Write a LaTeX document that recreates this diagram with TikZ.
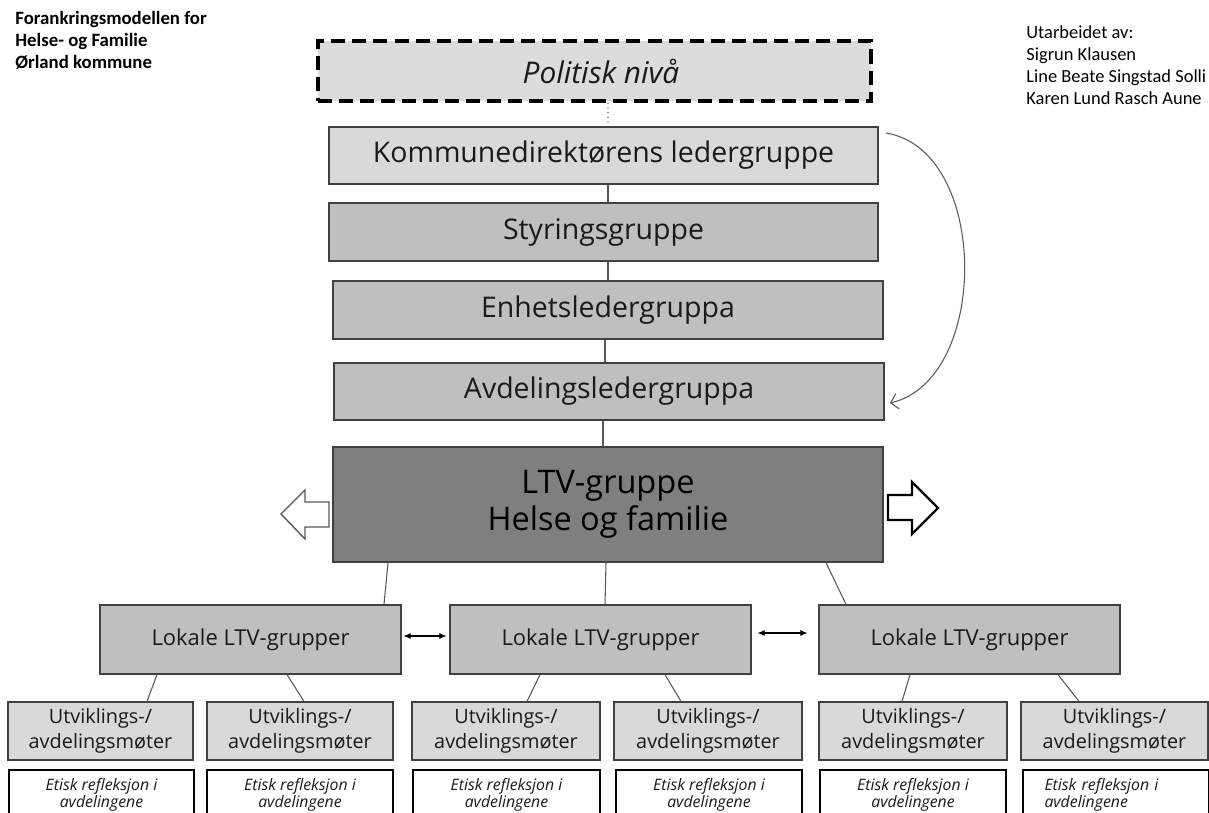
\documentclass[tikz,border=0pt]{standalone}
\usepackage{fontspec}
\setmainfont{Open Sans}
\newfontfamily\calfont{Carlito}
\usetikzlibrary{arrows.meta}

\definecolor{boxline}{HTML}{404040}
\definecolor{linkgray}{HTML}{595959}
\definecolor{textgray}{HTML}{1A1A1A}
\definecolor{polfill}{HTML}{DCDCDC}
\definecolor{lightfill}{HTML}{D9D9D9}
\definecolor{midfill}{HTML}{BFBFBF}
\definecolor{darkfill}{HTML}{7F7F7F}

\begin{document}
\begin{tikzpicture}[x=0.02cm,y=-0.02cm]
\tikzstyle{every node}+=[inner sep=0pt, text=textgray]
\tikzstyle{level}=[draw=boxline, line width=0.7pt, fill=midfill, align=center]
\tikzstyle{link}=[draw=linkgray, line width=0.6pt]
\tikzstyle{both}=[{Latex[length=4pt,width=3.5pt]}-{Latex[length=4pt,width=3.5pt]}, line width=0.6pt, black]
\clip (0,0) rectangle (1209,813);
\fill[white] (0,0) rectangle (1209,813);

% corner texts
\node[anchor=north west, align=left, text=black, font=\calfont\bfseries\fontsize{10.7}{12.5}\selectfont] (title) at (15,11) {Forankringsmodellen for\\Helse- og Familie\\Ørland kommune};
\node[anchor=north west, align=left, text=black, font=\calfont\fontsize{10.5}{12.5}\selectfont] (authors) at (1026,25) {Utarbeidet av:\\Sigrun Klausen\\Line Beate Singstad Solli\\Karen Lund Rasch Aune};

% ledelseslinjen
\node[level, fill=polfill, draw=black, line width=2.3pt, dash pattern=on 8pt off 4pt, minimum width=11.06cm, minimum height=1.2cm, font=\itshape\fontsize{17}{20}\selectfont] (pol) at (594.5,71) {\hspace*{0.26cm}Politisk nivå};
\node[level, fill=lightfill, minimum width=10.98cm, minimum height=1.14cm, font=\fontsize{16.2}{19}\selectfont] (kdl) at (603.5,155.5) {Kommunedirektørens ledergruppe};
\node[level, minimum width=10.98cm, minimum height=1.16cm, font=\fontsize{16.2}{19}\selectfont] (styr) at (603.5,232) {Styringsgruppe};
\node[level, minimum width=11cm, minimum height=1.16cm, font=\fontsize{16.2}{19}\selectfont] (enh) at (608,310) {Enhetsledergruppa};
\node[level, minimum width=11cm, minimum height=1.14cm, font=\fontsize{16.2}{19}\selectfont] (avd) at (609,391.5) {Avdelingsledergruppa};
\node[level, fill=darkfill, minimum width=11cm, minimum height=2.3cm, text=black, font=\fontsize{18.5}{21}\selectfont] (ltv) at (608,504.5) {LTV-gruppe\\Helse og familie};

% lokale grupper
\node[level, minimum width=6.02cm, minimum height=1.38cm, font=\fontsize{12.5}{15}\selectfont] (lok1) at (250.5,639.5) {Lokale LTV-grupper};
\node[level, minimum width=6.02cm, minimum height=1.38cm, font=\fontsize{12.5}{15}\selectfont] (lok2) at (600.5,639.5) {Lokale LTV-grupper};
\node[level, minimum width=6.02cm, minimum height=1.38cm, font=\fontsize{12.5}{15}\selectfont] (lok3) at (969.5,639.5) {Lokale LTV-grupper};

% avdelingsmøter
\tikzstyle{meet}=[level, fill=lightfill, minimum height=1.16cm, font=\fontsize{11.3}{14.2}\selectfont]
\node[meet, minimum width=3.7cm] (utv1) at (100.5,731) {Utviklings-/\\avdelingsmøter};
\node[meet, minimum width=3.72cm] (utv2) at (300,731) {Utviklings-/\\avdelingsmøter};
\node[meet, minimum width=3.76cm] (utv3) at (506,731) {Utviklings-/\\avdelingsmøter};
\node[meet, minimum width=3.76cm] (utv4) at (708,731) {Utviklings-/\\avdelingsmøter};
\node[meet, minimum width=3.76cm] (utv5) at (913,731) {Utviklings-/\\avdelingsmøter};
\node[meet, minimum width=3.74cm] (utv6) at (1114.5,731) {Utviklings-/\\avdelingsmøter};

% etisk refleksjon
\tikzstyle{ethics}=[draw=black, line width=0.7pt, fill=white, align=center, minimum height=1.0cm, font=\itshape\fontsize{9}{10}\selectfont]
\node[ethics, minimum width=3.7cm] (eti1) at (101.5,795) {Etisk refleksjon i\\avdelingene};
\node[ethics, minimum width=3.72cm] (eti2) at (300,795) {Etisk refleksjon i\\avdelingene};
\node[ethics, minimum width=3.74cm] (eti3) at (506.5,795) {Etisk refleksjon i\\avdelingene};
\node[ethics, minimum width=3.72cm] (eti4) at (709,795) {Etisk refleksjon i\\avdelingene};
\node[ethics, minimum width=3.72cm] (eti5) at (913,795) {Etisk refleksjon i\\avdelingene};
\node[ethics, minimum width=3.72cm, align=left, text width=2.86cm] (eti6) at (1116,795) {Etisk refleksjon i\\avdelingene};

% linjer
\draw[link, dotted] ([xshift=0.27cm]pol.south) -- ([xshift=0.09cm]kdl.north);
\draw[link] ([xshift=0.09cm]kdl.south) -- ([xshift=0.09cm]styr.north);
\draw[link] (enh.north |- styr.south) -- (enh.north);
\draw[link] ([xshift=-0.08cm]avd.north |- enh.south) -- ([xshift=-0.08cm]avd.north);
\draw[link] ([xshift=-0.1cm]ltv.north |- avd.south) -- ([xshift=-0.1cm]ltv.north);

\draw[link] ([xshift=-4.4cm]ltv.south) -- ([xshift=2.67cm]lok1.north);
\draw[link] ([xshift=-0.04cm]ltv.south) -- ([xshift=0.09cm]lok2.north);
\draw[link] ([xshift=4.36cm]ltv.south) -- ([xshift=-2.47cm]lok3.north);

\draw[link] ([xshift=-1.87cm]lok1.south) -- ([xshift=0.93cm]utv1.north);
\draw[link] ([xshift=0.73cm]lok1.south) -- ([xshift=0.08cm]utv2.north);
\draw[link] ([xshift=-1.21cm]lok2.south) -- ([xshift=0.42cm]utv3.north);
\draw[link] ([xshift=1.29cm]lok2.south) -- ([xshift=-0.54cm]utv4.north);
\draw[link] ([xshift=-1.19cm]lok3.south) -- ([xshift=-0.22cm]utv5.north);
\draw[link] ([xshift=1.77cm]lok3.south) -- ([xshift=-0.71cm]utv6.north);

\draw[both] ([xshift=0.04cm,yshift=0.07cm]lok1.east) -- ([xshift=-0.06cm,yshift=0.07cm]lok2.west);
\draw[both] ([xshift=0.12cm,yshift=0.13cm]lok2.east) -- ([xshift=-0.22cm,yshift=0.13cm]lok3.west);

% bue fra ledergruppen
\coordinate (bendA) at (886,133);
\coordinate (bendB) at (890,403);
\draw[link, -{Straight Barb[length=4pt,width=9pt]}] (bendA) .. controls (990,150) and (990,380) .. (bendB);

% piler ut
\draw[draw=linkgray, line width=0.8pt, fill=white, line join=miter] (281,514) -- (305,490) -- (305,502) -- (329,502) -- (329,527) -- (305,527) -- (305,539) -- cycle;
\draw[draw=black, line width=1.3pt, fill=white, line join=miter] (938,508) -- (912,482) -- (912,495) -- (888,495) -- (888,520) -- (912,520) -- (912,534) -- cycle;

\end{tikzpicture}
\end{document}
